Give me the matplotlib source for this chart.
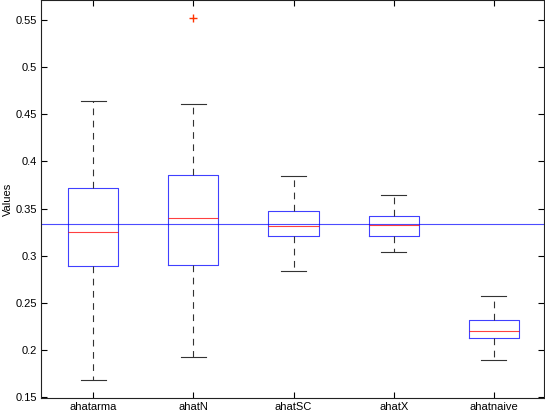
import matplotlib
matplotlib.use("Agg")
import matplotlib.pyplot as plt
from matplotlib.ticker import FormatStrFormatter

plt.rcParams.update({
    "font.family": ["Liberation Sans", "DejaVu Sans"],
    "font.size": 8,
    "axes.linewidth": 0.8,
    "xtick.direction": "in",
    "ytick.direction": "in",
    "xtick.major.size": 4,
    "ytick.major.size": 4,
})

LABELS = ["ahatarma", "ahatN", "ahatSC", "ahatX", "ahatnaive"]
WHISLO = [0.1684, 0.1928, 0.2840, 0.3038, 0.1893]
Q1 = [0.2893, 0.2897, 0.3205, 0.3212, 0.2123]
MEDIAN = [0.3247, 0.3396, 0.3311, 0.3322, 0.2203]
Q3 = [0.3718, 0.3859, 0.3477, 0.3424, 0.2320]
WHISHI = [0.4637, 0.4609, 0.3845, 0.3643, 0.2575]
FLIERS = [[], [0.552], [], [], []]
TRUE_VALUE = 1 / 3

stats = []
for i, lab in enumerate(LABELS):
    stats.append({
        "label": lab, "whislo": WHISLO[i], "q1": Q1[i], "med": MEDIAN[i],
        "q3": Q3[i], "whishi": WHISHI[i], "fliers": FLIERS[i],
    })

fig = plt.figure(figsize=(5.45, 4.12), dpi=100)
ax = fig.add_axes([41 / 545, 14 / 412, 503 / 545, 398 / 412])

ax.axhline(TRUE_VALUE, color="#0000ff", linewidth=0.8, alpha=0.7, zorder=1)
ax.bxp(
    stats,
    positions=range(1, len(LABELS) + 1),
    widths=0.5,
    boxprops=dict(color="#0000ff", linewidth=0.8, alpha=0.75),
    medianprops=dict(color="#ff0000", linewidth=0.8, alpha=0.75),
    whiskerprops=dict(color="#333333", linewidth=0.8, linestyle=(0, (6, 5))),
    capprops=dict(color="#333333", linewidth=0.8),
    capwidths=0.25,
    flierprops=dict(marker="+", markeredgecolor="#ff3300", markersize=6,
                    linestyle="none"),
    zorder=2,
)

ax.set_xlim(0.48, 5.5)
ax.set_ylim(0.149, 0.5712)
ax.set_yticks([0.15, 0.2, 0.25, 0.3, 0.35, 0.4, 0.45, 0.5, 0.55])
ax.yaxis.set_major_formatter(FormatStrFormatter("%g"))
ax.set_ylabel("Values", labelpad=2)
ax.tick_params(top=True, right=True, pad=3, colors="black")
for s in ax.spines.values():
    s.set_color("#222222")

fig.savefig("out.png", dpi=100)
